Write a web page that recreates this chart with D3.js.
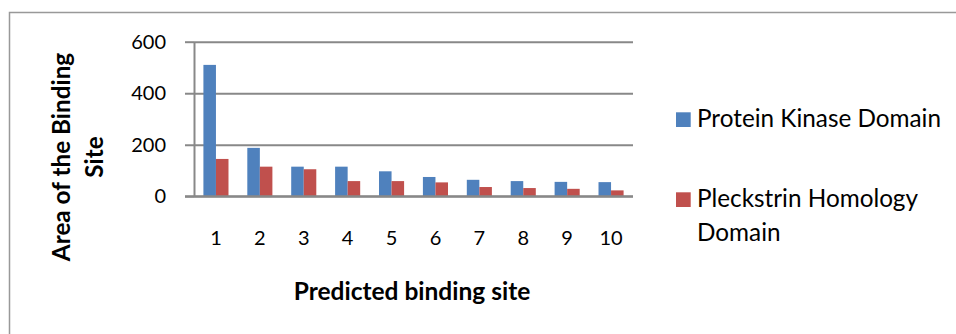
<!DOCTYPE html>
<html>
<head>
<meta charset="utf-8">
<script src="https://cdn.jsdelivr.net/npm/d3@7"></script>
<style>
  html, body { margin: 0; padding: 0; background: #fff; }
  svg { display: block; }
  text { font-family: Lato, "Open Sans", sans-serif; fill: #000; }
</style>
</head>
<body>
<svg id="chart" width="956" height="334"></svg>
<script>
// Predicted binding sites and their areas for the two domains
const sites = ["1", "2", "3", "4", "5", "6", "7", "8", "9", "10"];
const seriesNames = ["Protein Kinase Domain", "Pleckstrin Homology Domain"];
const kinaseArea = [510, 188, 115, 115, 97, 75, 64, 59, 56, 55];
const pleckstrinArea = [145, 115, 105, 59, 59, 54, 36, 32, 29, 23];
const yTicks = [0, 200, 400, 600];
const colors = ["#4F81BD", "#C0504D"];

const rows = sites.map((s, i) => ({ site: s, values: [kinaseArea[i], pleckstrinArea[i]] }));

const svg = d3.select("#chart");
const plot = { left: 194, right: 633, top: 41.7, bottom: 196.3 };

// chart frame (left and top edges)
svg.append("path")
  .attr("d", "M9.5,334 V12.5 H956")
  .attr("fill", "none")
  .attr("stroke", "#999")
  .attr("stroke-width", 1.5);

const x = d3.scaleBand().domain(sites).range([plot.left, plot.right]).paddingInner(0).paddingOuter(0);
const xSub = d3.scaleBand().domain([0, 1]).range([0, x.bandwidth()]).paddingInner(0).paddingOuter(0.75);
const y = d3.scaleLinear().domain([0, 600]).range([plot.bottom, plot.top]);

// horizontal gridlines
svg.append("g")
  .attr("transform", `translate(${plot.left},0)`)
  .call(d3.axisRight(y).tickValues(yTicks).tickSize(plot.right - plot.left).tickFormat(""))
  .call(g => g.select(".domain").remove())
  .call(g => g.selectAll("line").attr("stroke", "#888").attr("stroke-width", 2));

// bars
svg.append("g").selectAll("g")
  .data(rows)
  .join("g")
  .attr("transform", d => `translate(${x(d.site)},0)`)
  .selectAll("rect")
  .data(d => d.values.map((v, k) => ({ k, v })))
  .join("rect")
  .attr("x", d => xSub(d.k))
  .attr("width", xSub.bandwidth())
  .attr("y", d => y(d.v))
  .attr("height", d => y(0) - y(d.v))
  .attr("fill", d => colors[d.k]);

// y axis
svg.append("g")
  .attr("transform", `translate(${plot.left},0)`)
  .call(d3.axisLeft(y).tickValues(yTicks).tickSize(9).tickSizeOuter(0).tickPadding(19))
  .call(g => g.select(".domain").attr("stroke", "#888").attr("stroke-width", 2))
  .call(g => g.selectAll("line").attr("stroke", "#888").attr("stroke-width", 2))
  .call(g => g.selectAll("text").style("font-size", "20px").attr("font-family", "Lato, sans-serif"));

// x axis
svg.append("g")
  .attr("transform", `translate(0,${plot.bottom})`)
  .call(d3.axisBottom(x).tickSize(0).tickPadding(35))
  .call(g => g.select(".domain").attr("stroke", "#888").attr("stroke-width", 2).attr("d", `M185,0H${plot.right}`))
  .call(g => g.selectAll("text").style("font-size", "20px").attr("font-family", "Lato, sans-serif"));

// axis titles
svg.append("text")
  .attr("x", 412).attr("y", 300)
  .attr("text-anchor", "middle")
  .style("font-size", "24.5px").style("font-weight", "bold")
  .text("Predicted binding site");

const yTitle = svg.append("text")
  .attr("transform", "translate(0,157) rotate(-90)")
  .attr("text-anchor", "middle")
  .style("font-size", "24.3px").style("font-weight", "bold");
yTitle.append("tspan").attr("x", 0).attr("y", 69.5).text("Area of the Binding");
yTitle.append("tspan").attr("x", 0).attr("y", 103).text("Site");

// legend
const legendItems = [
  { lines: ["Protein Kinase Domain"], y: 127.3 },
  { lines: ["Pleckstrin Homology", "Domain"], y: 207.3 }
];
const legend = svg.append("g");
legendItems.forEach((item, i) => {
  legend.append("rect")
    .attr("x", 676).attr("y", item.y - 15)
    .attr("width", 14.7).attr("height", 14.7)
    .attr("fill", colors[i]);
  const t = legend.append("text")
    .style("font-size", "24.3px");
  item.lines.forEach((line, j) => {
    t.append("tspan")
      .attr("x", 697)
      .attr("y", item.y + j * 33.4)
      .text(line);
  });
});
</script>
</body>
</html>
